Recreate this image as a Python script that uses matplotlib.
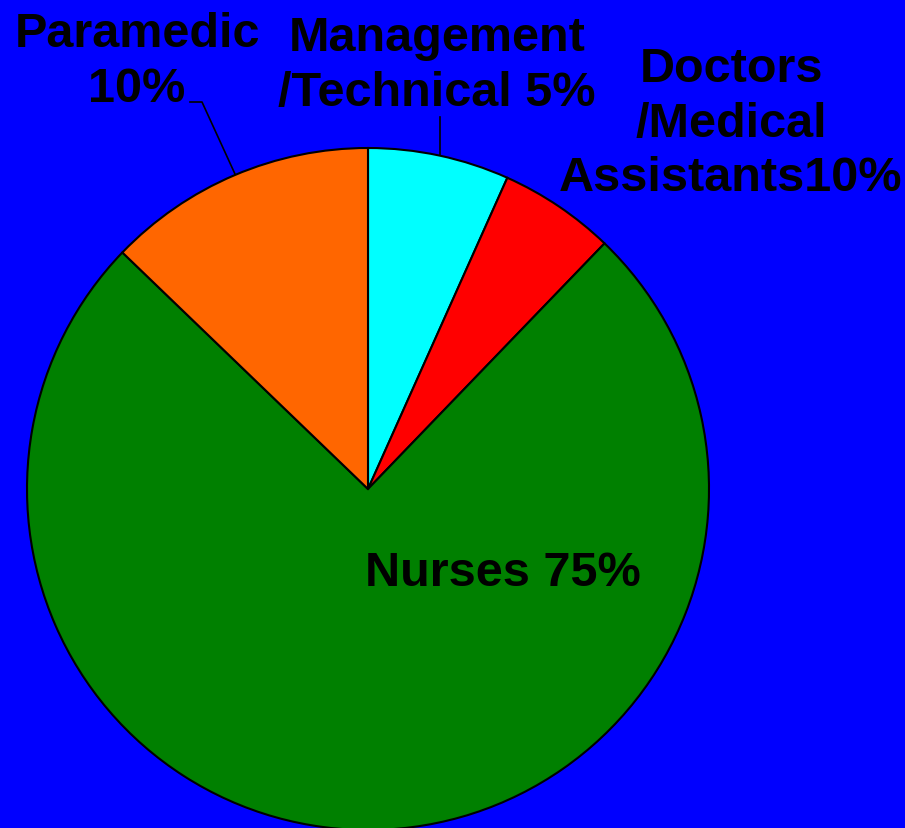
import matplotlib
matplotlib.use("Agg")
import matplotlib.pyplot as plt

# Data (slice order: clockwise from 12 o'clock)
categories = ["Management/Technical", "Doctors/Medical Assistants", "Nurses", "Paramedic"]
shares = [6.7, 5.5, 75.0, 12.8]
label_texts = ["Management\n/Technical 5%", "Doctors\n/Medical\nAssistants10%",
               "Nurses 75%", "Paramedic\n10%"]
colors = ["#00FFFF", "#FF0000", "#008000", "#FF6600"]

W, H = 905, 829
plt.rcParams['font.family'] = ['Liberation Sans', 'DejaVu Sans']

fig = plt.figure(figsize=(W / 100, H / 100), dpi=100, facecolor="#0000FF")
ax = fig.add_axes([0, 0, 1, 1])
ax.set_facecolor("#0000FF")

cx, cy, r = 368, H - 490, 341
wedges, _ = ax.pie(shares, colors=colors, startangle=90, counterclock=False,
                   center=(cx, cy), radius=r, frame=True,
                   wedgeprops=dict(edgecolor="black", linewidth=1.5))
for w in wedges:
    w.set_clip_on(False)
ax.set_xlim(0, W)
ax.set_ylim(0, H)
ax.axis("off")

font = dict(fontsize=35, fontweight="bold", color="black", ha="center",
            va="center", linespacing=1.28)

# label positions in top-down pixel coordinates
label_pos = [(437, 66), (731, 124), (503, 574), (137, 62)]
for txt, (x, y) in zip(label_texts, label_pos):
    ax.text(x, H - y, txt, **font)

# leader lines
ax.plot([190, 202, 235], [H - 103, H - 103, H - 175], color="black", lw=1.2)
ax.plot([440, 440], [H - 118, H - 156], color="black", lw=1.2)

fig.savefig("out.png", dpi=100, facecolor=fig.get_facecolor())
